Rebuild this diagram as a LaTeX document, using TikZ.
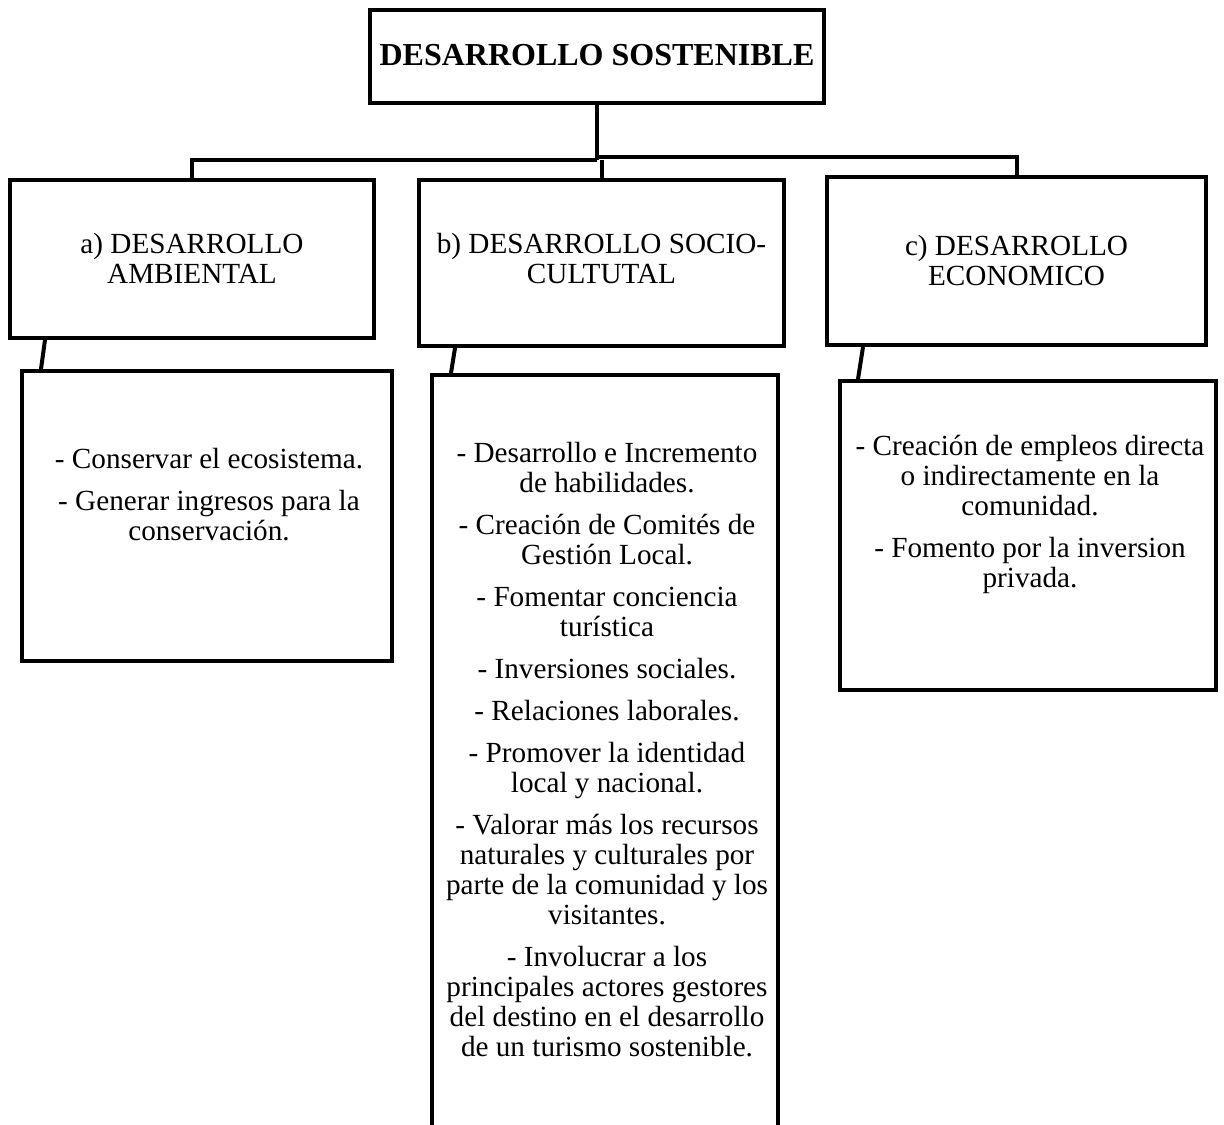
\documentclass[tikz,border=0pt]{standalone}
\usepackage{fontspec}
\setmainfont{Liberation Serif}
\usetikzlibrary{calc}
\begin{document}
\begin{tikzpicture}[x=0.5pt,y=-0.5pt,
  box/.style={draw,line width=2pt,inner sep=0pt},
  conn/.style={line width=2pt},
  body/.style={inner sep=0pt,align=center,font=\fontsize{14.6}{15}\selectfont,anchor=north},
  titletext/.style={inner sep=0pt,anchor=base,font=\fontsize{16}{19}\selectfont\bfseries}]
\useasboundingbox (0,0) rectangle (1224,1124);
\clip (0,0) rectangle (1224,1124);
% boxes
\node[box,minimum width=227pt,minimum height=46.5pt] (title) at (597,56.5) {};
\node[box,minimum width=182pt,minimum height=79pt] (a) at (192,259) {};
\node[box,minimum width=182.5pt,minimum height=83pt] (b) at (601.5,263) {};
\node[box,minimum width=189.5pt,minimum height=84pt] (c) at (1016.5,261) {};
\node[box,minimum width=185pt,minimum height=145pt] (la) at (207,516) {};
\node[box,minimum width=173pt,minimum height=387.5pt] (lb) at (605,762.5) {};
\node[box,minimum width=188pt,minimum height=154.5pt] (lc) at (1028,535.5) {};
% texts
\node[titletext] (tt) at (597,65) {DESARROLLO SOSTENIBLE};
\node[body] (ta) at (192,232) {\strut a) DESARROLLO\\AMBIENTAL};
\node[body] (tb) at (601.5,232) {\strut b) DESARROLLO SOCIO-\\CULTUTAL};
\node[body] (tc) at (1016.5,234) {\strut c) DESARROLLO\\ECONOMICO};
\node[body] (tla) at (209,447) {\strut - Conservar el ecosistema.\\[6pt]
  - Generar ingresos para la\\conservación.};
\node[body] (tlb) at (607,441) {\strut - Desarrollo e Incremento\\de habilidades.\\[6pt]
  - Creación de Comités de\\Gestión Local.\\[6pt]
  - Fomentar conciencia\\turística\\[6pt]
  - Inversiones sociales.\\[6pt]
  - Relaciones laborales.\\[6pt]
  - Promover la identidad\\local y nacional.\\[6pt]
  - Valorar más los recursos\\naturales y culturales por\\parte de la comunidad y los\\visitantes.\\[6pt]
  - Involucrar a los\\principales actores gestores\\del destino en el desarrollo\\de un turismo sostenible.};
\node[body] (tlc) at (1030,434) {\strut - Creación de empleos directa\\o indirectamente en la\\comunidad.\\[6pt]
  - Fomento por la inversion\\privada.};
% connectors
\coordinate (jl) at (597,159.5);
\coordinate (jr) at (597,157);
\draw[conn] (title.south) -- (jl);
\draw[conn] (a.north) |- (jl);
\draw[conn] (b.north) -- (b.north |- jl);
\draw[conn] (c.north) |- (jr);
\draw[conn] ($(a.south west)+(37,0)$) -- ($(la.north west)+(21,0)$);
\draw[conn] ($(b.south west)+(38,0)$) -- ($(lb.north west)+(21,0)$);
\draw[conn] ($(c.south west)+(38,0)$) -- ($(lc.north west)+(20,0)$);
\end{tikzpicture}
\end{document}
